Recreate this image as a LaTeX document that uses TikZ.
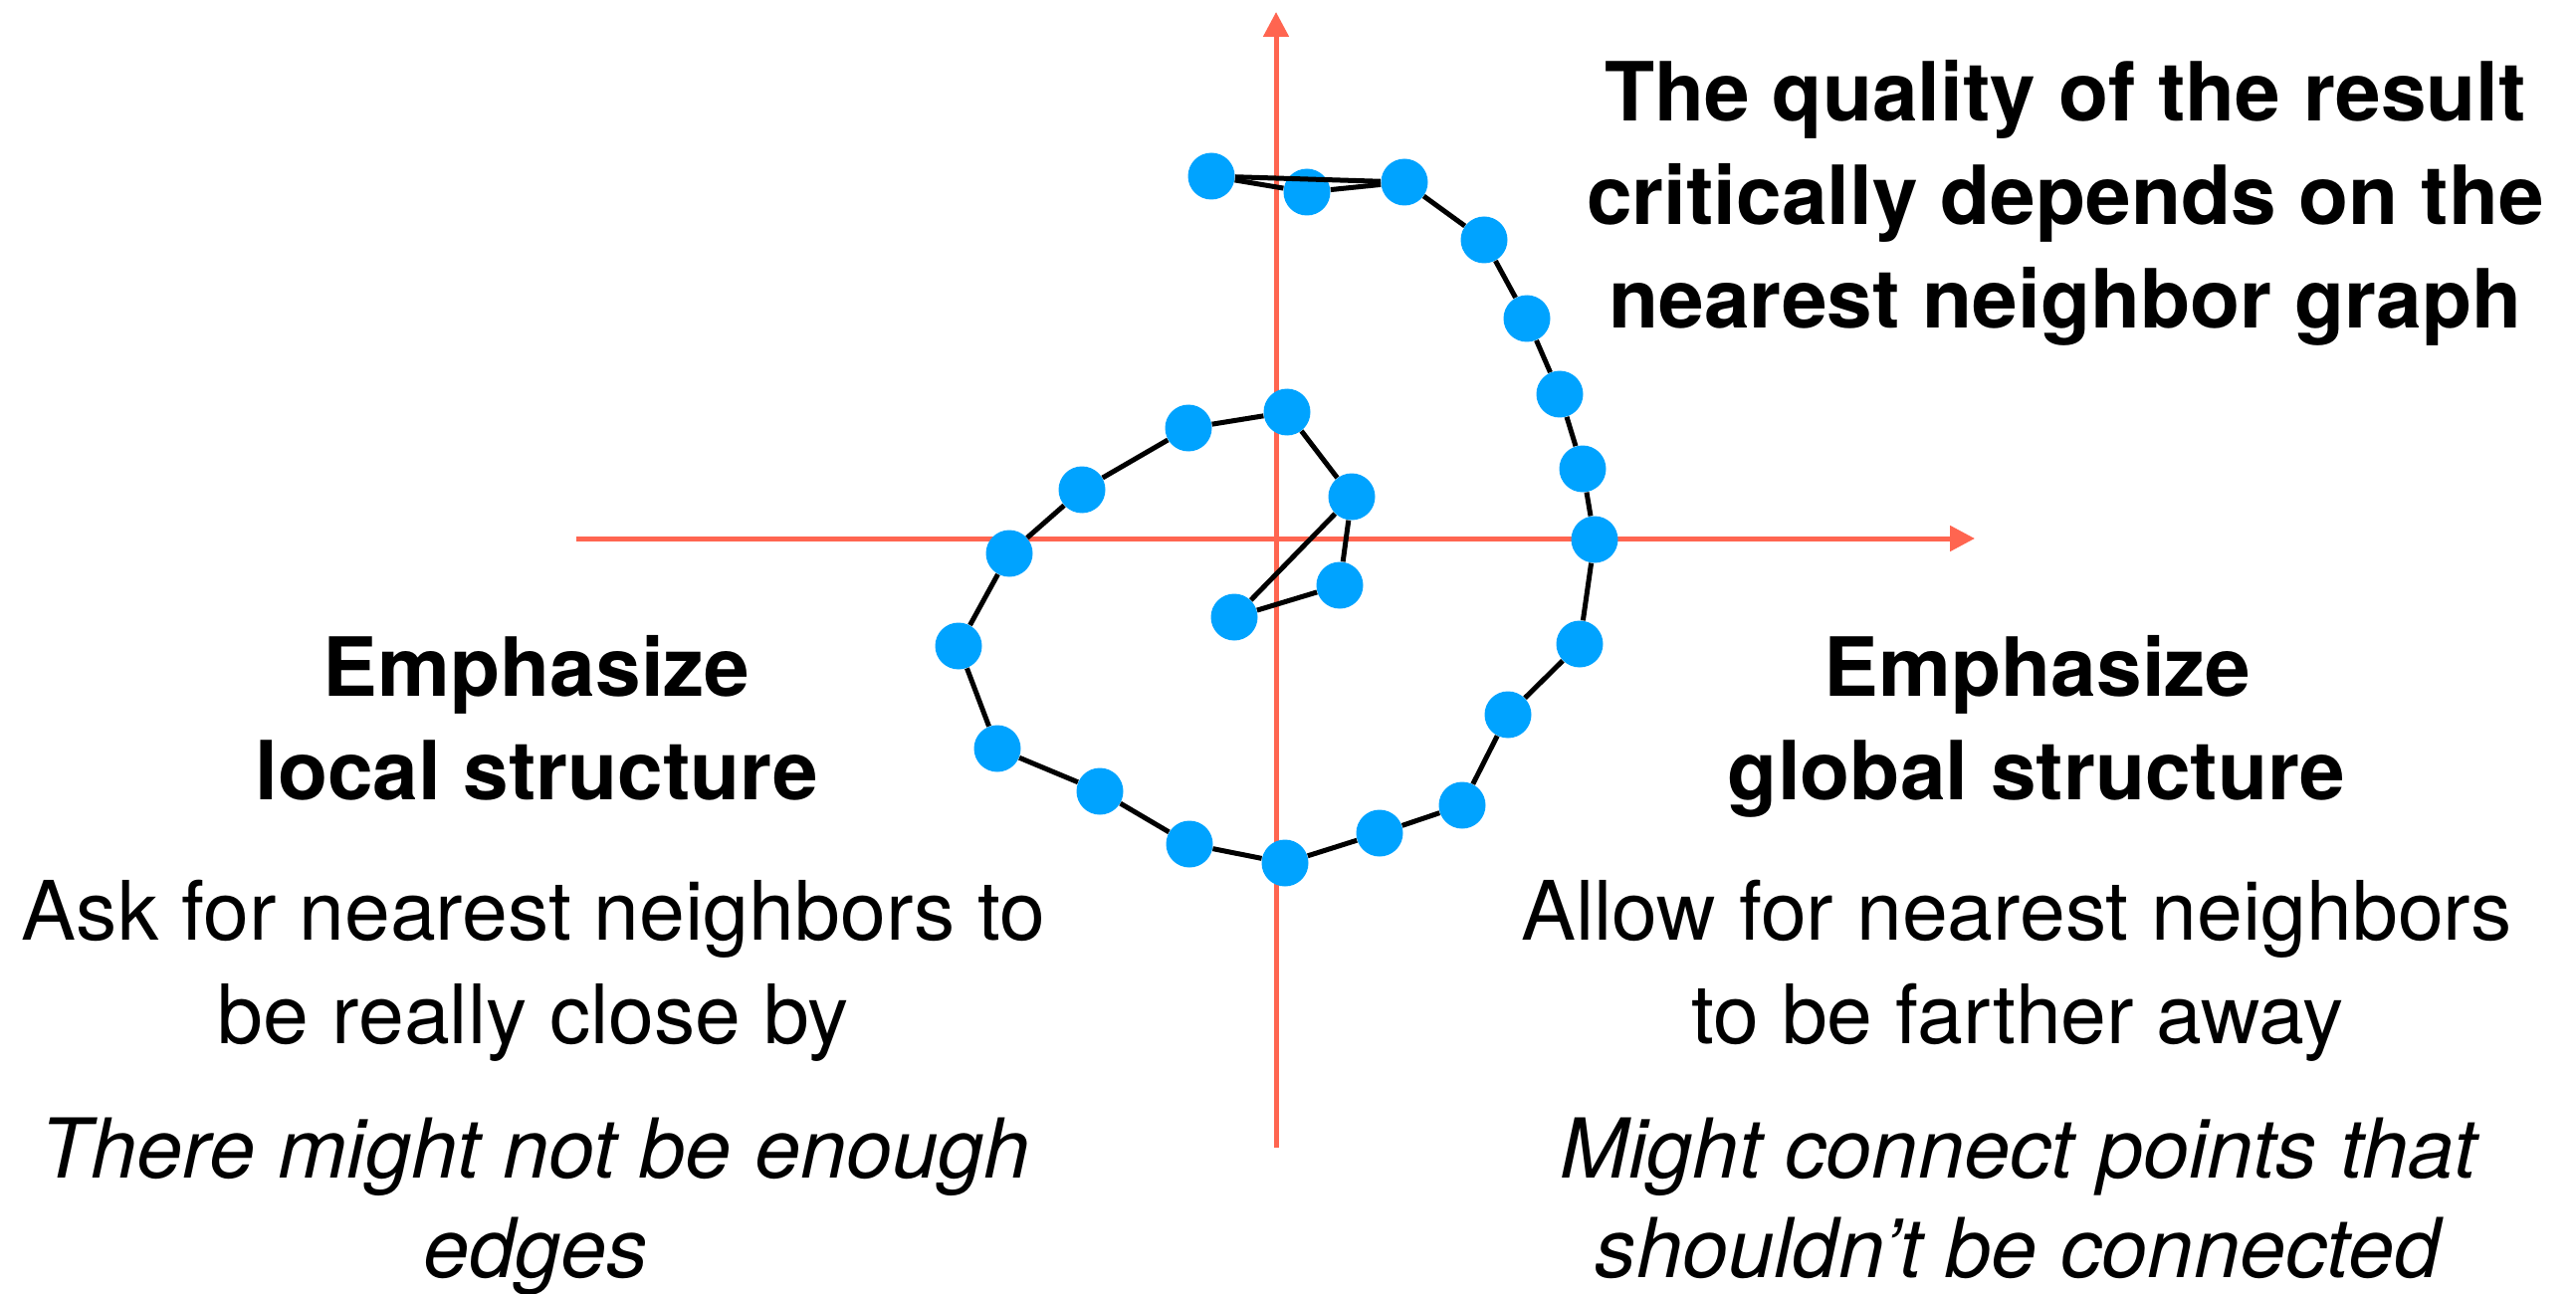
\documentclass[tikz,border=0pt]{standalone}
\usepackage{fontspec}
\setmainfont{TeX Gyre Heros}
\usetikzlibrary{arrows.meta}
\definecolor{axiscol}{RGB}{255,101,80}
\definecolor{dotcol}{RGB}{0,163,255}
\tikzset{
  axis/.style={draw=axiscol, line width=2.5pt, -{Triangle[length=12.5pt,width=12.5pt]}},
  dot/.style={circle, fill=dotcol, draw=none, inner sep=0pt, minimum size=23.5pt},
  edge/.style={draw=black, line width=2.5pt},
  boldtxt/.style={anchor=base, inner sep=0pt, font=\bfseries\fontsize{41}{52}\selectfont},
  plaintxt/.style={anchor=base, inner sep=0pt, font=\fontsize{41.2}{52}\selectfont},
  itxt/.style={anchor=base, inner sep=0pt, font=\itshape\fontsize{41.5}{52}\selectfont}
}
\begin{document}
\begin{tikzpicture}[x=0.5pt,y=-0.5pt]
\useasboundingbox[fill=white] (0,0) rectangle (2588,1300);
% axes
\coordinate (xs) at (579,541);
\coordinate (xe) at (1984,541);
\coordinate (ys) at (1282,1153);
\coordinate (ye) at (1282,12);
\draw[axis] (xs) -- (xe);
\draw[axis] (ys) -- (ye);
% dots
\foreach \n/\x/\y in {1/1240/620,2/1346/588,3/1358/499,4/1293/414,5/1194/430,6/1087/492,
  7/1014/556,8/963/649,9/1002/752,10/1105/795,11/1195/848,12/1291/867,13/1386/837,
  14/1469/809,15/1515/718,16/1587/647,17/1602/542,18/1590/471,19/1567/396,20/1534/320,
  21/1491/241,22/1411/183,23/1313/193,24/1217/177}
  \node[dot] (a\n) at (\x,\y) {};
% edges
\foreach \i [evaluate=\i as \j using int(\i+1)] in {1,...,23}
  \draw[edge] (a\i) -- (a\j);
\draw[edge] (a1) -- (a3);
\draw[edge] (a22) -- (a24);
% top text
\node[boldtxt] (t1) at (2075,122) {The quality of the result};
\node[boldtxt] (t2) at (2075,226) {critically depends on the};
\node[boldtxt] (t3) at (2075,330) {nearest neighbor graph};
% left block
\node[boldtxt] (l1) at (539,699) {Emphasize};
\node[boldtxt] (l2) at (539,803) {local structure};
\node[plaintxt] (l3) at (536,944) {Ask for nearest neighbors to};
\node[plaintxt] (l4) at (536,1048) {be really close by};
\node[itxt] (l5) at (538,1183) {There might not be enough};
\node[itxt] (l6) at (538,1283) {edges};
% right block
\node[boldtxt] (r1) at (2047,699) {Emphasize};
\node[boldtxt] (r2) at (2046,803) {global structure};
\node[plaintxt] (r3) at (2026,944) {Allow for nearest neighbors};
\node[plaintxt] (r4) at (2027,1048) {to be farther away};
\node[itxt] (r5) at (2028,1183) {Might connect points that};
\node[itxt] (r6) at (2027,1283) {shouldn’t be connected};
\end{tikzpicture}
\end{document}
